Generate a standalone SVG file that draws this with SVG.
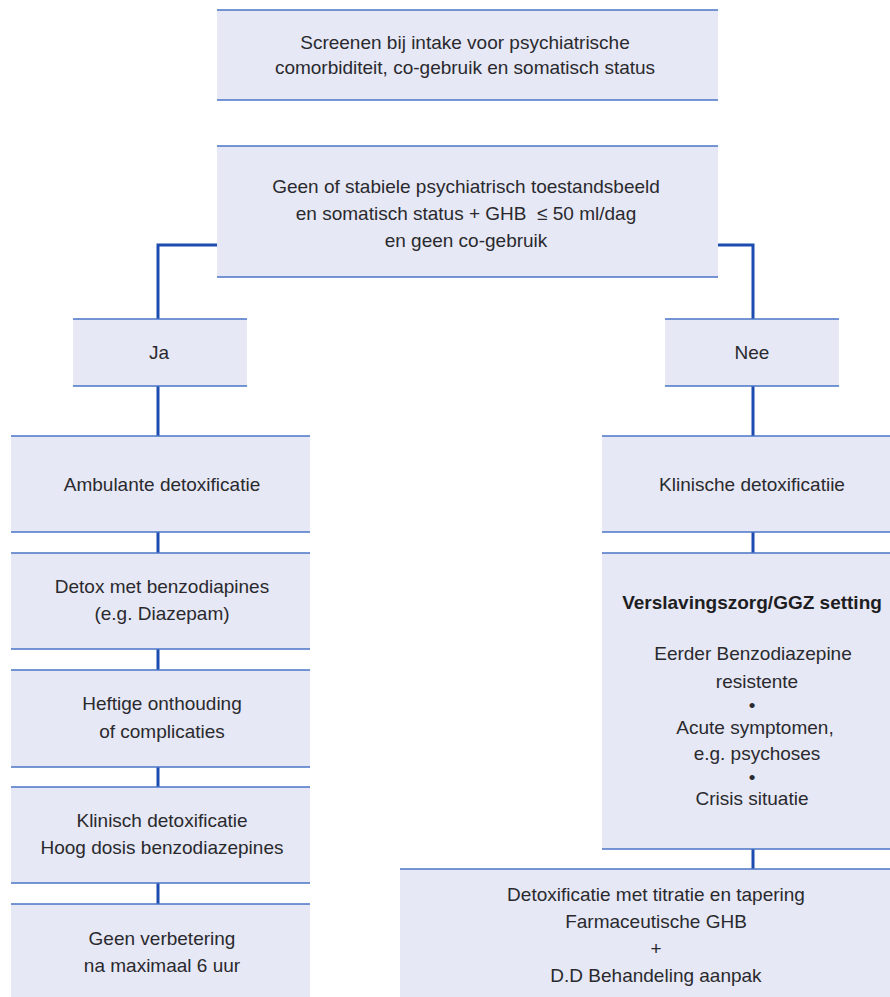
<svg xmlns="http://www.w3.org/2000/svg" width="890" height="997" viewBox="0 0 890 997">
<style>
.box{fill:#e6e8f5;stroke:none}
.edge{stroke:#4a74c6;stroke-width:1.6;fill:none}
.con{stroke:#1c4cb0;stroke-width:3;fill:none}
text{font-family:"Liberation Sans",Arial,sans-serif;font-size:19px;fill:#2a2a2e;text-anchor:middle}
.b{font-weight:bold;fill:#1e1e22}
</style>
<rect width="890" height="997" fill="#ffffff"/>
<g id="connectors">
<path class="con" d="M217 245H158V319"/>
<path class="con" d="M718 245H753V319"/>
<path class="con" d="M158 386V436M158 532V553M158 649V670M158 767V787M158 883V904"/>
<path class="con" d="M753 386V436M753 532V553M753 849V869"/>
</g>
<g id="n_screen">
<rect class="box" x="217" y="10" width="501" height="90"/>
<path class="edge" d="M217 10H718M217 100H718"/>
<text x="465" y="49">Screenen bij intake voor psychiatrische</text>
<text x="465" y="74">comorbiditeit, co-gebruik en somatisch status</text>
</g>
<g id="n_geen">
<rect class="box" x="217" y="146" width="501" height="131"/>
<path class="edge" d="M217 146H718M217 277H718"/>
<text x="466" y="193">Geen of stabiele psychiatrisch toestandsbeeld</text>
<text x="466" y="220" style="white-space:pre">en somatisch status + GHB  ≤ 50 ml/dag</text>
<text x="466" y="247">en geen co-gebruik</text>
</g>
<g id="n_ja">
<rect class="box" x="73" y="319" width="174" height="67"/>
<path class="edge" d="M73 319H247M73 386H247"/>
<text x="159" y="359">Ja</text>
</g>
<g id="n_nee">
<rect class="box" x="665" y="319" width="174" height="67"/>
<path class="edge" d="M665 319H839M665 386H839"/>
<text x="752" y="359">Nee</text>
</g>
<g id="n_ambulant">
<rect class="box" x="11" y="436" width="299" height="96"/>
<path class="edge" d="M11 436H310M11 532H310"/>
<text x="162" y="491">Ambulante detoxificatie</text>
</g>
<g id="n_detox">
<rect class="box" x="11" y="553" width="299" height="96"/>
<path class="edge" d="M11 553H310M11 649H310"/>
<text x="162" y="593">Detox met benzodiapines</text>
<text x="162" y="620">(e.g. Diazepam)</text>
</g>
<g id="n_heftig">
<rect class="box" x="11" y="670" width="299" height="97"/>
<path class="edge" d="M11 670H310M11 767H310"/>
<text x="162" y="710">Heftige onthouding</text>
<text x="162" y="738">of complicaties</text>
</g>
<g id="n_klinisch_hoog">
<rect class="box" x="11" y="787" width="299" height="96"/>
<path class="edge" d="M11 787H310M11 883H310"/>
<text x="162" y="827">Klinisch detoxificatie</text>
<text x="162" y="854">Hoog dosis benzodiazepines</text>
</g>
<g id="n_geen_verbetering">
<rect class="box" x="11" y="904" width="299" height="100"/>
<path class="edge" d="M11 904H310"/>
<text x="162" y="945">Geen verbetering</text>
<text x="162" y="972">na maximaal 6 uur</text>
</g>
<g id="n_klinische">
<rect class="box" x="602" y="436" width="300" height="96"/>
<path class="edge" d="M602 436H902M602 532H902"/>
<text x="752" y="491">Klinische detoxificatiie</text>
</g>
<g id="n_setting">
<rect class="box" x="602" y="553" width="300" height="296"/>
<path class="edge" d="M602 553H902M602 849H902"/>
<text class="b" x="752" y="609">Verslavingszorg/GGZ setting</text>
<text x="753" y="660">Eerder Benzodiazepine</text>
<text x="757" y="688">resistente</text>
<text x="752" y="712">•</text>
<text x="755" y="734">Acute symptomen,</text>
<text x="757" y="760">e.g. psychoses</text>
<text x="752" y="784">•</text>
<text x="752" y="805">Crisis situatie</text>
</g>
<g id="n_titratie">
<rect class="box" x="400" y="869" width="512" height="135"/>
<path class="edge" d="M400 869H912"/>
<text x="656" y="901">Detoxificatie met titratie en tapering</text>
<text x="656" y="928">Farmaceutische GHB</text>
<text x="656" y="955">+</text>
<text x="656" y="982">D.D Behandeling aanpak</text>
</g>
</svg>
